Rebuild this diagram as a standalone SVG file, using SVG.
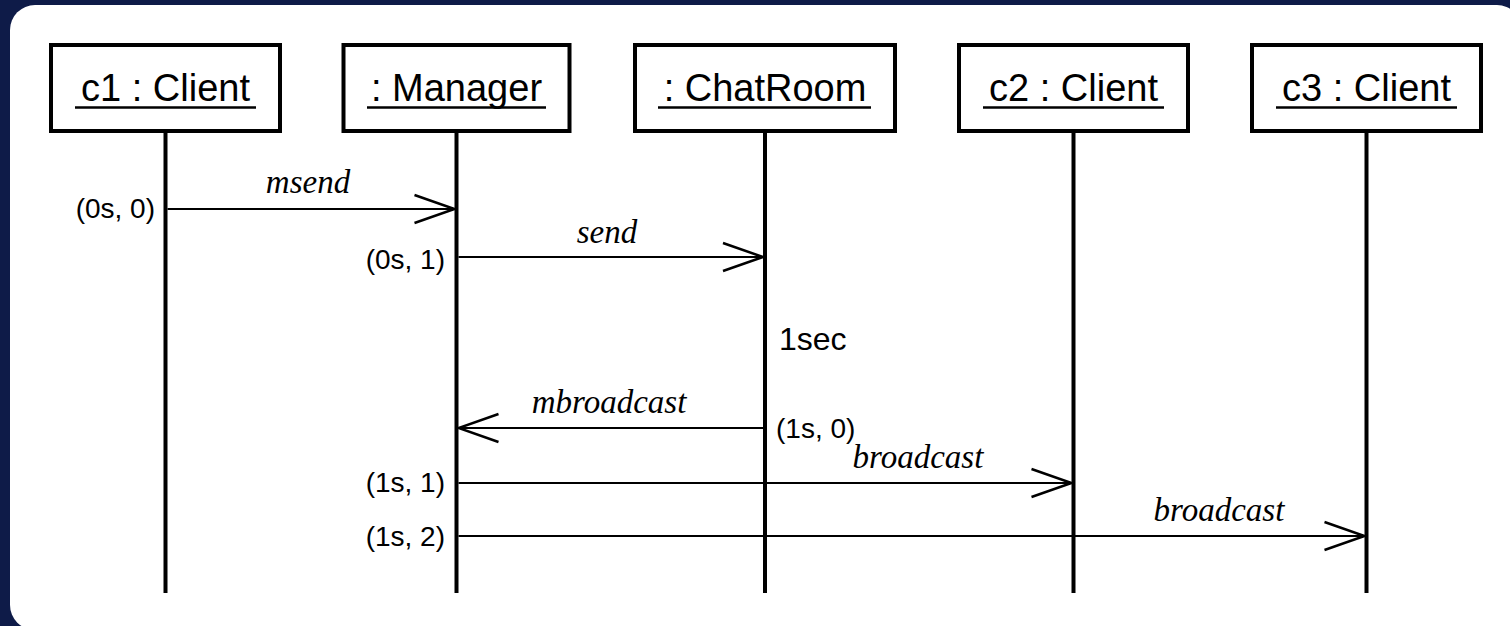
<svg xmlns="http://www.w3.org/2000/svg" width="1510" height="626" viewBox="0 0 1510 626">
  <style>
    .obj { fill: #fff; stroke: #000; stroke-width: 4; }
    .objname { font-family: "Liberation Sans", Arial, sans-serif; font-size: 38px; text-anchor: middle; fill: #000; }
    .uline { stroke: #000; stroke-width: 2.5; }
    .life { stroke: #000; stroke-width: 4; }
    .msg { stroke: #000; stroke-width: 2; fill: none; marker-end: url(#open); }
    .mlabel { font-family: "Liberation Serif", "Times New Roman", serif; font-style: italic; font-size: 33px; text-anchor: middle; fill: #000; }
    .stamp { font-family: "Liberation Sans", Arial, sans-serif; font-size: 28px; fill: #000; }
    .note { font-family: "Liberation Sans", Arial, sans-serif; font-size: 32px; fill: #000; }
  </style>
  <defs>
    <marker id="open" markerUnits="userSpaceOnUse" orient="auto" viewBox="-44 -18 48 36" markerWidth="48" markerHeight="36" refX="0" refY="0">
      <path d="M-40,-14 L0,0 L-40,14" fill="none" stroke="#000" stroke-width="2.5"/>
    </marker>
  </defs>

  <!-- frame -->
  <rect x="0" y="0" width="1510" height="626" fill="#0e1b48"/>
  <rect x="10" y="5" width="1512" height="625" rx="25" ry="25" fill="#fff"/>

  <!-- objects with their lifelines -->
  <g id="c1">
    <line class="life" x1="165.5" y1="133" x2="165.5" y2="593"/>
    <rect class="obj" x="51" y="45" width="229" height="86"/>
    <text class="objname" x="165.5" y="100.5">c1 : Client</text>
    <line class="uline" x1="75" y1="107.5" x2="256" y2="107.5"/>
  </g>
  <g id="manager">
    <line class="life" x1="456.5" y1="133" x2="456.5" y2="593"/>
    <rect class="obj" x="343.5" y="45" width="226" height="86"/>
    <text class="objname" x="456.5" y="100.5">: Manager</text>
    <line class="uline" x1="367" y1="107.5" x2="546" y2="107.5"/>
  </g>
  <g id="chatroom">
    <line class="life" x1="765" y1="133" x2="765" y2="593"/>
    <rect class="obj" x="635" y="45" width="260" height="86"/>
    <text class="objname" x="765" y="100.5">: ChatRoom</text>
    <line class="uline" x1="658" y1="107.5" x2="871" y2="107.5"/>
  </g>
  <g id="c2">
    <line class="life" x1="1073.5" y1="133" x2="1073.5" y2="593"/>
    <rect class="obj" x="959" y="45" width="229" height="86"/>
    <text class="objname" x="1073.5" y="100.5">c2 : Client</text>
    <line class="uline" x1="983" y1="107.5" x2="1164" y2="107.5"/>
  </g>
  <g id="c3">
    <line class="life" x1="1366.5" y1="133" x2="1366.5" y2="593"/>
    <rect class="obj" x="1252" y="45" width="229" height="86"/>
    <text class="objname" x="1366.5" y="100.5">c3 : Client</text>
    <line class="uline" x1="1276" y1="107.5" x2="1457" y2="107.5"/>
  </g>

  <!-- messages -->
  <g id="messages">
    <line class="msg" x1="167.5" y1="209" x2="454.5" y2="209"/>
    <text class="mlabel" x="308" y="193">msend</text>
    <text class="stamp" x="155" y="218" text-anchor="end">(0s, 0)</text>

    <line class="msg" x1="458.5" y1="257" x2="763" y2="257"/>
    <text class="mlabel" x="607" y="243">send</text>
    <text class="stamp" x="445" y="269" text-anchor="end">(0s, 1)</text>

    <text class="note" x="779" y="350">1sec</text>

    <line class="msg" x1="763" y1="428" x2="458.5" y2="428"/>
    <text class="mlabel" x="609" y="413">mbroadcast</text>
    <text class="stamp" x="776" y="438">(1s, 0)</text>

    <line class="msg" x1="458.5" y1="483" x2="1071.5" y2="483"/>
    <text class="mlabel" x="918" y="468">broadcast</text>
    <text class="stamp" x="445" y="492" text-anchor="end">(1s, 1)</text>

    <line class="msg" x1="458.5" y1="536" x2="1364.5" y2="536"/>
    <text class="mlabel" x="1219" y="521">broadcast</text>
    <text class="stamp" x="445" y="546" text-anchor="end">(1s, 2)</text>
  </g>
</svg>
